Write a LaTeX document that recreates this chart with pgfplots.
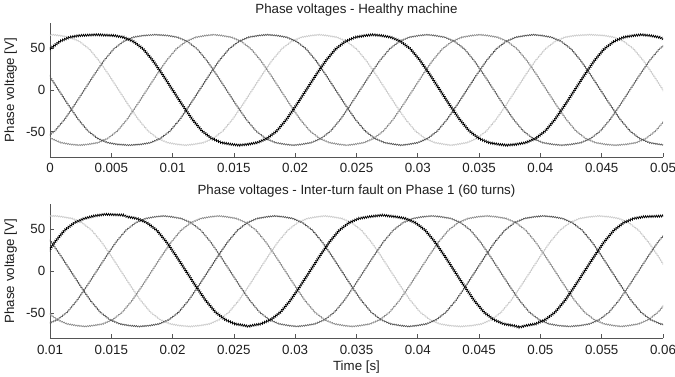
\documentclass[border=0pt]{standalone}
\usepackage{fontspec}
\setmainfont{Liberation Sans}
\usepackage{pgfplots}
\pgfplotsset{compat=1.18}
\usetikzlibrary{decorations.pathmorphing}
\definecolor{txt}{HTML}{1E1E1E}
\definecolor{axc}{HTML}{555555}
\definecolor{pA}{HTML}{000000}
\definecolor{pB}{HTML}{666666}
\definecolor{pC}{HTML}{8C8C8C}
\definecolor{pD}{HTML}{555555}
\definecolor{pE}{HTML}{CCCCCC}
\pgfplotsset{
  panel/.style={
    scale only axis, width=460pt, height=100.5pt,
    axis x line*=bottom, axis y line*=left,
    x axis line style={-}, y axis line style={-},
    axis line style={draw=axc, line width=0.6pt},
    tick align=inside, major tick length=3pt,
    tick style={draw=axc, line width=0.5pt},
    ymin=-80, ymax=80, ytick={-50,0,50}, yticklabels={-50,0,50},
    scaled x ticks=false, scaled y ticks=false,
    ylabel={Phase voltage [V]},
    font=\fontsize{10}{12}\selectfont, text=txt,
    xticklabel style={yshift=-1.5pt},
    title style={yshift=-4.5pt},
    clip=true,
  },
  ph/.style={line width=0.5pt, decorate, decoration={zigzag, segment length=1.6pt, amplitude=0.45pt}},
  phblack/.style={line width=0.55pt, color=pA, decorate, decoration={zigzag, segment length=1.6pt, amplitude=0.75pt}},
}
\begin{document}
\begin{tikzpicture}
\path[use as bounding box] (-37.5pt,-165pt) rectangle (469pt,117.75pt);
\begin{axis}[panel, at={(0pt,0pt)}, anchor=south west,
  xmin=0, xmax=0.05,
  xtick={0,0.005,0.01,0.015,0.02,0.025,0.03,0.035,0.04,0.045,0.05},
  xticklabels={0,0.005,0.01,0.015,0.02,0.025,0.03,0.035,0.04,0.045,0.05},
  title={Phase voltages - Healthy machine}]
% phase 5 (lightest)
\addplot[ph, color=pE] coordinates {
(-0.0045,18)(-0.0037,35)(-0.0029,49)(-0.0021,58)(-0.0013,63)(-0.0005,65)(0.0002,66)
(0.0008,65)(0.0016,63)(0.0024,58)(0.0032,49)(0.0040,35)(0.0048,18)(0.0056,0)(0.0064,-18)(0.0072,-35)(0.0080,-49)(0.0088,-58)(0.0096,-63)(0.0104,-65)(0.01105,-66)
(0.0117,-65)(0.0125,-63)(0.0133,-58)(0.0141,-49)(0.0149,-35)(0.0157,-18)(0.0165,0)(0.0173,18)(0.0181,35)(0.0189,49)(0.0197,58)(0.0205,63)(0.0213,65)(0.02195,66)
(0.0226,65)(0.0234,63)(0.0242,58)(0.0250,49)(0.0258,35)(0.0266,18)(0.0274,0)(0.0282,-18)(0.0290,-35)(0.0298,-49)(0.0306,-58)(0.0314,-63)(0.0322,-65)(0.0327,-66)
(0.0332,-65)(0.0340,-63)(0.0348,-58)(0.0356,-49)(0.0364,-35)(0.0372,-18)(0.0380,0)(0.0388,18)(0.0396,35)(0.0404,49)(0.0412,58)(0.0420,63)(0.0428,65)(0.0440,66)
(0.0452,65)(0.0460,63)(0.0468,58)(0.0476,49)(0.0484,35)(0.0492,18)(0.0500,0)(0.0508,-18)};
% phase 3
\addplot[ph, color=pC] coordinates {
(-0.0079,65)(-0.0071,63)(-0.0063,58)(-0.0055,49)(-0.0047,35)(-0.0039,18)(-0.0031,0)(-0.0023,-18)(-0.0015,-35)(-0.0007,-49)(0.0001,-58)(0.0009,-63)(0.0017,-65)(0.0024,-66)
(0.0031,-65)(0.0039,-63)(0.0047,-58)(0.0055,-49)(0.0063,-35)(0.0071,-18)(0.0079,0)(0.0087,18)(0.0095,35)(0.0103,49)(0.0111,58)(0.0119,63)(0.0127,65)(0.01335,66)
(0.0140,65)(0.0148,63)(0.0156,58)(0.0164,49)(0.0172,35)(0.0180,18)(0.0188,0)(0.0196,-18)(0.0204,-35)(0.0212,-49)(0.0220,-58)(0.0228,-63)(0.0236,-65)(0.0242,-66)
(0.0248,-65)(0.0256,-63)(0.0264,-58)(0.0272,-49)(0.0280,-35)(0.0288,-18)(0.0296,0)(0.0304,18)(0.0312,35)(0.0320,49)(0.0328,58)(0.0336,63)(0.0344,65)(0.03505,66)
(0.0357,65)(0.0365,63)(0.0373,58)(0.0381,49)(0.0389,35)(0.0397,18)(0.0405,0)(0.0413,-18)(0.0421,-35)(0.0429,-49)(0.0437,-58)(0.0445,-63)(0.0453,-65)(0.0461,-66)
(0.0470,-65)(0.0478,-63)(0.0486,-58)(0.0494,-49)(0.0502,-35)(0.0510,-18)(0.0518,0)};
% phase 4
\addplot[ph, color=pD] coordinates {
(-0.0050,66)(-0.0041,65)(-0.0033,63)(-0.0025,58)(-0.0017,49)(-0.0009,35)(-0.0001,18)(0.0007,0)(0.0015,-18)(0.0023,-35)(0.0031,-49)(0.0039,-58)(0.0047,-63)(0.0055,-65)(0.00645,-66)
(0.0074,-65)(0.0082,-63)(0.0090,-58)(0.0098,-49)(0.0106,-35)(0.0114,-18)(0.0122,0)(0.0130,18)(0.0138,35)(0.0146,49)(0.0154,58)(0.0162,63)(0.0170,65)(0.01775,66)
(0.0185,65)(0.0193,63)(0.0201,58)(0.0209,49)(0.0217,35)(0.0225,18)(0.0233,0)(0.0241,-18)(0.0249,-35)(0.0257,-49)(0.0265,-58)(0.0273,-63)(0.0281,-65)(0.02865,-66)
(0.0292,-65)(0.0300,-63)(0.0308,-58)(0.0316,-49)(0.0324,-35)(0.0332,-18)(0.0340,0)(0.0348,18)(0.0356,35)(0.0364,49)(0.0372,58)(0.0380,63)(0.0388,65)(0.03945,66)
(0.0401,65)(0.0409,63)(0.0417,58)(0.0425,49)(0.0433,35)(0.0441,18)(0.0449,0)(0.0457,-18)(0.0465,-35)(0.0473,-49)(0.0481,-58)(0.0489,-63)(0.0497,-65)(0.05035,-66)};
% phase 2
\addplot[ph, color=pB] coordinates {
(-0.0026,-66)(-0.0020,-65)(-0.0012,-63)(-0.0004,-58)(0.0004,-49)(0.0012,-35)(0.0020,-18)(0.0028,0)(0.0036,18)(0.0044,35)(0.0052,49)(0.0060,58)(0.0068,63)(0.0076,65)(0.0086,66)
(0.0096,65)(0.0104,63)(0.0112,58)(0.0120,49)(0.0128,35)(0.0136,18)(0.0144,0)(0.0152,-18)(0.0160,-35)(0.0168,-49)(0.0176,-58)(0.0184,-63)(0.0192,-65)(0.01985,-66)
(0.0205,-65)(0.0213,-63)(0.0221,-58)(0.0229,-49)(0.0237,-35)(0.0245,-18)(0.0253,0)(0.0261,18)(0.0269,35)(0.0277,49)(0.0285,58)(0.0293,63)(0.0301,65)(0.03075,66)
(0.0314,65)(0.0322,63)(0.0330,58)(0.0338,49)(0.0346,35)(0.0354,18)(0.0362,0)(0.0370,-18)(0.0378,-35)(0.0386,-49)(0.0394,-58)(0.0402,-63)(0.0410,-65)(0.04175,-66)
(0.0425,-65)(0.0433,-63)(0.0441,-58)(0.0449,-49)(0.0457,-35)(0.0465,-18)(0.0473,0)(0.0481,18)(0.0489,35)(0.0497,49)(0.0505,58)};
% phase 1
\addplot[phblack] coordinates {
(-0.0072,-65)(-0.0064,-63)(-0.0056,-58)(-0.0048,-49)(-0.0040,-35)(-0.0032,-18)(-0.0024,0)(-0.0016,18)(-0.0008,35)(0.0000,49)(0.0008,58)(0.0016,63)(0.0024,65)(0.0038,66)
(0.0052,65)(0.0060,63)(0.0068,58)(0.0076,49)(0.0084,35)(0.0092,18)(0.0100,0)(0.0108,-18)(0.0116,-35)(0.0124,-49)(0.0132,-58)(0.0140,-63)(0.0148,-65)(0.01545,-66)
(0.0161,-65)(0.0169,-63)(0.0177,-58)(0.0185,-49)(0.0193,-35)(0.0201,-18)(0.0209,0)(0.0217,18)(0.0225,35)(0.0233,49)(0.0241,58)(0.0249,63)(0.0257,65)(0.02635,66)
(0.0270,65)(0.0278,63)(0.0286,58)(0.0294,49)(0.0302,35)(0.0310,18)(0.0318,0)(0.0326,-18)(0.0334,-35)(0.0342,-49)(0.0350,-58)(0.0358,-63)(0.0366,-65)(0.0373,-66)
(0.0380,-65)(0.0388,-63)(0.0396,-58)(0.0404,-49)(0.0412,-35)(0.0420,-18)(0.0428,0)(0.0436,18)(0.0444,35)(0.0452,49)(0.0460,58)(0.0468,63)(0.0476,65)(0.04825,66)
(0.0489,65)(0.0497,63)(0.0505,58)};
\end{axis}
\begin{axis}[panel, at={(0pt,-136pt)}, anchor=south west,
  xmin=0.01, xmax=0.06,
  xtick={0.01,0.015,0.02,0.025,0.03,0.035,0.04,0.045,0.05,0.055,0.06},
  xticklabels={0.01,0.015,0.02,0.025,0.03,0.035,0.04,0.045,0.05,0.055,0.06},
  xlabel={Time [s]}, xlabel style={yshift=2pt},
  title={Phase voltages - Inter-turn fault on Phase 1 (60 turns)}]
\addplot[ph, color=pE] coordinates {
(0.0090,66)(0.0105,66)(0.0110,65)(0.0118,63)(0.0126,58)(0.0134,49)(0.0142,35)(0.0150,18)(0.0158,0)(0.0166,-18)(0.0174,-35)(0.0182,-49)(0.0190,-58)(0.0198,-63)(0.0206,-65)(0.0214,-66)
(0.0222,-65)(0.0230,-63)(0.0238,-58)(0.0246,-49)(0.0254,-35)(0.0262,-18)(0.0270,0)(0.0278,18)(0.0286,35)(0.0294,49)(0.0302,58)(0.0310,63)(0.0318,65)(0.0324,66)
(0.0330,65)(0.0338,63)(0.0346,58)(0.0354,49)(0.0362,35)(0.0370,18)(0.0378,0)(0.0386,-18)(0.0394,-35)(0.0402,-49)(0.0410,-58)(0.0418,-63)(0.0426,-65)(0.0435,-66)
(0.0444,-65)(0.0452,-63)(0.0460,-58)(0.0468,-49)(0.0476,-35)(0.0484,-18)(0.0492,0)(0.0500,18)(0.0508,35)(0.0516,49)(0.0524,58)(0.0532,63)(0.0540,65)(0.0548,66)
(0.0556,65)(0.0564,63)(0.0572,58)(0.0580,49)(0.0588,35)(0.0596,18)(0.0604,0)(0.0612,-18)};
\addplot[ph, color=pC] coordinates {
(0.0026,65)(0.0034,63)(0.0042,58)(0.0050,49)(0.0058,35)(0.0066,18)(0.0074,0)(0.0082,-18)(0.0090,-35)(0.0098,-49)(0.0106,-58)(0.0114,-63)(0.0122,-65)(0.01285,-66)
(0.0135,-65)(0.0143,-63)(0.0151,-58)(0.0159,-49)(0.0167,-35)(0.0175,-18)(0.0183,0)(0.0191,18)(0.0199,35)(0.0207,49)(0.0215,58)(0.0223,63)(0.0231,65)(0.02375,66)
(0.0244,65)(0.0252,63)(0.0260,58)(0.0268,49)(0.0276,35)(0.0284,18)(0.0292,0)(0.0300,-18)(0.0308,-35)(0.0316,-49)(0.0324,-58)(0.0332,-63)(0.0340,-65)(0.03465,-66)
(0.0353,-65)(0.0361,-63)(0.0369,-58)(0.0377,-49)(0.0385,-35)(0.0393,-18)(0.0401,0)(0.0409,18)(0.0417,35)(0.0425,49)(0.0433,58)(0.0441,63)(0.0449,65)(0.04565,66)
(0.0464,65)(0.0472,63)(0.0480,58)(0.0488,49)(0.0496,35)(0.0504,18)(0.0512,0)(0.0520,-18)(0.0528,-35)(0.0536,-49)(0.0544,-58)(0.0552,-63)(0.0560,-65)(0.0566,-66)
(0.0572,-65)(0.0580,-63)(0.0588,-58)(0.0596,-49)(0.0604,-35)};
\addplot[ph, color=pD] coordinates {
(0.0040,66)(0.0069,65)(0.0077,63)(0.0085,58)(0.0093,49)(0.0101,35)(0.0109,18)(0.0117,0)(0.0125,-18)(0.0133,-35)(0.0141,-49)(0.0149,-58)(0.0157,-63)(0.0165,-65)(0.0173,-66)
(0.0181,-65)(0.0189,-63)(0.0197,-58)(0.0205,-49)(0.0213,-35)(0.0221,-18)(0.0229,0)(0.0237,18)(0.0245,35)(0.0253,49)(0.0261,58)(0.0269,63)(0.0277,65)(0.02835,66)
(0.0290,65)(0.0298,63)(0.0306,58)(0.0314,49)(0.0322,35)(0.0330,18)(0.0338,0)(0.0346,-18)(0.0354,-35)(0.0362,-49)(0.0370,-58)(0.0378,-63)(0.0386,-65)(0.03925,-66)
(0.0399,-65)(0.0407,-63)(0.0415,-58)(0.0423,-49)(0.0431,-35)(0.0439,-18)(0.0447,0)(0.0455,18)(0.0463,35)(0.0471,49)(0.0479,58)(0.0487,63)(0.0495,65)(0.05025,66)
(0.0510,65)(0.0518,63)(0.0526,58)(0.0534,49)(0.0542,35)(0.0550,18)(0.0558,0)(0.0566,-18)(0.0574,-35)(0.0582,-49)(0.0590,-58)(0.0598,-63)(0.0606,-65)};
\addplot[ph, color=pB] coordinates {
(0.0060,-65)(0.0083,-66)(0.0090,-65)(0.0098,-63)(0.0106,-58)(0.0114,-49)(0.0122,-35)(0.0130,-18)(0.0138,0)(0.0146,18)(0.0154,35)(0.0162,49)(0.0170,58)(0.0178,63)(0.0186,65)(0.01925,66)
(0.0199,65)(0.0207,63)(0.0215,58)(0.0223,49)(0.0231,35)(0.0239,18)(0.0247,0)(0.0255,-18)(0.0263,-35)(0.0271,-49)(0.0279,-58)(0.0287,-63)(0.0295,-65)(0.03015,-66)
(0.0308,-65)(0.0316,-63)(0.0324,-58)(0.0332,-49)(0.0340,-35)(0.0348,-18)(0.0356,0)(0.0364,18)(0.0372,35)(0.0380,49)(0.0388,58)(0.0396,63)(0.0404,65)(0.04115,66)
(0.0419,65)(0.0427,63)(0.0435,58)(0.0443,49)(0.0451,35)(0.0459,18)(0.0467,0)(0.0475,-18)(0.0483,-35)(0.0491,-49)(0.0499,-58)(0.0507,-63)(0.0515,-65)(0.05235,-66)
(0.0532,-65)(0.0540,-63)(0.0548,-58)(0.0556,-49)(0.0564,-35)(0.0572,-18)(0.0580,0)(0.0588,18)(0.0596,35)(0.0604,49)};
\addplot[phblack] coordinates {
(0.0040,-65)(0.0048,-63)(0.0056,-58)(0.0064,-49)(0.0072,-35)(0.0080,-18)(0.0088,0)(0.0096,18)(0.0104,35)(0.0112,49)(0.0120,58)(0.0128,63)(0.0136,66)(0.0145,68)(0.0160,67)
(0.0163,65)(0.0171,63)(0.0179,58)(0.0187,49)(0.0195,35)(0.0203,18)(0.0211,0)(0.0219,-18)(0.0227,-35)(0.0235,-49)(0.0243,-58)(0.0251,-63)(0.0259,-65)(0.0262,-66)
(0.0264,-65)(0.0272,-63)(0.0280,-58)(0.0288,-49)(0.0296,-35)(0.0304,-18)(0.0312,0)(0.0320,18)(0.0328,35)(0.0336,49)(0.0344,58)(0.0352,63)(0.0360,65)(0.0371,67)
(0.0382,65)(0.0390,63)(0.0398,58)(0.0406,49)(0.0414,35)(0.0422,18)(0.0430,0)(0.0438,-18)(0.0446,-35)(0.0454,-49)(0.0462,-58)(0.0470,-63)(0.0478,-65)(0.0483,-67)
(0.0488,-65)(0.0496,-63)(0.0504,-58)(0.0512,-49)(0.0520,-35)(0.0528,-18)(0.0536,0)(0.0544,18)(0.0552,35)(0.0560,49)(0.0568,58)(0.0576,63)(0.0584,65)(0.0600,66)(0.0620,66)};
\end{axis}
\end{tikzpicture}
\end{document}
